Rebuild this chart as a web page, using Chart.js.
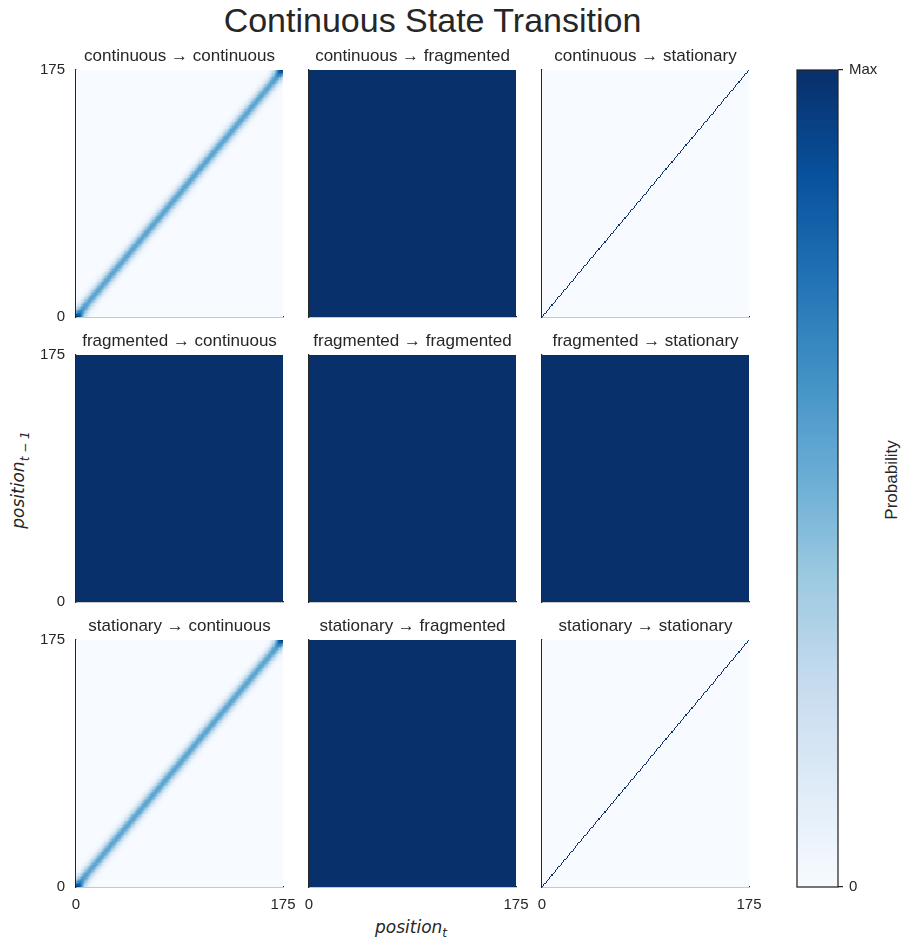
<!DOCTYPE html>
<html>
<head>
<meta charset="utf-8">
<script src="https://cdn.jsdelivr.net/npm/chart.js@4.4.1/dist/chart.umd.min.js"></script>
<style>
  body { margin: 0; background: #fff; width: 909px; height: 951px; position: relative; overflow: hidden;
         font-family: "Liberation Sans", Arial, sans-serif; color: #262626; }
  canvas { position: absolute; }
  .txt { position: absolute; white-space: nowrap; }
  #title { left: 0; width: 865px; top: 1px; text-align: center; font-size: 34px; }
  .math { font-family: "DejaVu Sans", sans-serif; font-style: italic; font-size: 17px; }
  .math sub { font-size: 12px; }
  #xlabel { left: 375px; top: 917px; }
  #ylabel { left: 20px; top: 480px; transform: translate(-50%, -50%) rotate(-90deg); }
  #cblabel { left: 892px; top: 480px; font-size: 17px; transform: translate(-50%, -50%) rotate(-90deg); }
</style>
</head>
<body>
<div id="title" class="txt">Continuous State Transition</div>
<div id="xlabel" class="txt math">position<sub>t</sub></div>
<div id="ylabel" class="txt math">position<sub>t − 1</sub></div>
<div id="cblabel" class="txt">Probability</div>

<script>
// states shown on the rows (from) and columns (to)
const states = ['continuous', 'fragmented', 'stationary'];

// number of position bins (0..175)
const nBins = 176;
const axisTicks = [0, 175];

// kind of transition matrix in each panel [row][col]
const transitionKind = [
    ['band', 'uniform', 'diagonal'],
    ['uniform', 'uniform', 'uniform'],
    ['band', 'uniform', 'diagonal']
];

// relative probability vs |position_t - position_t-1| for the band panels
const bandProfile = [1.0, 0.97, 0.9, 0.78, 0.65, 0.51, 0.38, 0.27, 0.18, 0.11, 0.067, 0.038, 0.02, 0.01];

// colorbar ticks
const cbTicks = [0, 1];
const cbTickLabels = ['0', 'Max'];

// Blues colormap stops
const blues = ['#f7fbff', '#deebf7', '#c6dbef', '#9ecae1', '#6baed6', '#4292c6', '#2171b5', '#08519c', '#08306b'];

const textColor = '#262626';
const fontFamily = '"Liberation Sans", Arial, sans-serif';

// layout of the panels (plot areas)
const panelLeft = [76, 309, 542];
const panelTop = [70, 355, 640];
const panelW = 207, panelH = 247;

function hexToRgb(h) {
    return [parseInt(h.slice(1, 3), 16), parseInt(h.slice(3, 5), 16), parseInt(h.slice(5, 7), 16)];
}
const stopsRgb = blues.map(hexToRgb);
const lut = [];
for (let k = 0; k < 256; k++) {
    const t = k / 255 * (stopsRgb.length - 1);
    const i = Math.min(Math.floor(t), stopsRgb.length - 2);
    const f = t - i;
    const c = stopsRgb[i].map((v, j) => Math.round(v + (stopsRgb[i + 1][j] - v) * f));
    lut.push(`rgb(${c[0]},${c[1]},${c[2]})`);
}
function colorFor(v) {
    return lut[Math.max(0, Math.min(255, Math.round(v * 255)))];
}

// build a row-normalised transition matrix, then scale it to its own max
function buildMatrix(kind) {
    const m = [];
    for (let r = 0; r < nBins; r++) {
        const row = [];
        for (let c = 0; c < nBins; c++) {
            const d = Math.abs(c - r);
            if (kind === 'band') row.push(d < bandProfile.length ? bandProfile[d] : 0);
            else if (kind === 'diagonal') row.push(d === 0 ? 1 : 0);
            else row.push(1);
        }
        const s = row.reduce((a, b) => a + b, 0);
        m.push(row.map(v => v / s));
    }
    let mx = 0;
    m.forEach(row => row.forEach(v => { if (v > mx) mx = v; }));
    return m.map(row => row.map(v => v / mx));
}

const heatmapPlugin = {
    id: 'heatmap',
    beforeDatasetsDraw(chart, args, opts) {
        const { ctx, scales: { x, y } } = chart;
        const m = opts.matrix;
        const n = m.length;
        const step = (axisTicks[1] - axisTicks[0]) / n;
        const xs = [], ys = [];
        for (let i = 0; i <= n; i++) {
            xs.push(Math.round(x.getPixelForValue(i * step)));
            ys.push(Math.round(y.getPixelForValue(i * step)));
        }
        ctx.save();
        for (let r = 0; r < n; r++) {
            for (let c = 0; c < n; c++) {
                ctx.fillStyle = colorFor(m[r][c]);
                ctx.fillRect(xs[c], ys[r + 1], xs[c + 1] - xs[c], ys[r] - ys[r + 1]);
            }
        }
        ctx.restore();
    }
};

const padL = 45, padT = 30, padB = 30;

function makePanel(row, col) {
    const canvas = document.createElement('canvas');
    canvas.width = panelW + padL * 2;
    canvas.height = panelH + padT + padB;
    canvas.style.left = (panelLeft[col] - padL) + 'px';
    canvas.style.top = (panelTop[row] - padT) + 'px';
    document.body.appendChild(canvas);

    const tickFont = { family: fontFamily, size: 15 };
    new Chart(canvas, {
        type: 'scatter',
        data: { datasets: [{ data: [] }] },
        options: {
            responsive: false,
            animation: false,
            events: [],
            layout: { padding: { left: 0, right: padL, top: 0, bottom: 0 } },
            plugins: {
                legend: { display: false },
                tooltip: { enabled: false },
                title: {
                    display: true,
                    fullSize: false,
                    text: states[row] + ' → ' + states[col],
                    color: textColor,
                    font: { family: fontFamily, size: 17, weight: 'normal', lineHeight: 1.2 },
                    padding: { top: 6, bottom: 3.6 }
                },
                heatmap: { matrix: buildMatrix(transitionKind[row][col]) }
            },
            scales: {
                x: {
                    type: 'linear', min: axisTicks[0], max: axisTicks[1],
                    afterFit: s => { s.height = padB; },
                    afterBuildTicks: s => { s.ticks = axisTicks.map(v => ({ value: v })); },
                    ticks: { display: row === 2, padding: 9, color: textColor, font: tickFont, maxRotation: 0, autoSkip: false },
                    grid: { display: false, drawTicks: false },
                    border: { display: true, color: textColor, width: 1.25 }
                },
                y: {
                    type: 'linear', min: axisTicks[0], max: axisTicks[1],
                    afterFit: s => { s.width = padL; },
                    afterBuildTicks: s => { s.ticks = axisTicks.map(v => ({ value: v })); },
                    ticks: { display: col === 0, padding: 11, color: textColor, font: tickFont, autoSkip: false },
                    grid: { display: false, drawTicks: false },
                    border: { display: true, color: textColor, width: 1.25 }
                }
            }
        },
        plugins: [heatmapPlugin]
    });
}

for (let r = 0; r < 3; r++) {
    for (let c = 0; c < 3; c++) makePanel(r, c);
}

// colorbar
const cbLevels = [];
for (let k = 0; k < 256; k++) cbLevels.push(k / 255);

const colorbarPlugin = {
    id: 'colorbar',
    beforeDatasetsDraw(chart) {
        const { ctx, chartArea, scales: { y } } = chart;
        const n = cbLevels.length;
        ctx.save();
        for (let k = 0; k < n; k++) {
            const yTop = Math.round(y.getPixelForValue((k + 1) / n));
            const yBot = Math.round(y.getPixelForValue(k / n));
            ctx.fillStyle = colorFor(cbLevels[k]);
            ctx.fillRect(chartArea.left, yTop, chartArea.right - chartArea.left, yBot - yTop + 1);
        }
        ctx.restore();
    },
    afterDraw(chart) {
        const { ctx, chartArea } = chart;
        ctx.save();
        ctx.strokeStyle = textColor;
        ctx.lineWidth = 1.25;
        ctx.strokeRect(chartArea.left, chartArea.top, chartArea.right - chartArea.left, chartArea.bottom - chartArea.top);
        ctx.restore();
    }
};

const cbPad = 16;
const cbCanvas = document.createElement('canvas');
cbCanvas.width = 111;
cbCanvas.height = 817 + cbPad * 2;
cbCanvas.style.left = '787px';
cbCanvas.style.top = (70 - cbPad) + 'px';
document.body.appendChild(cbCanvas);

new Chart(cbCanvas, {
    type: 'scatter',
    data: { datasets: [{ data: [] }] },
    options: {
        responsive: false,
        animation: false,
        events: [],
        layout: { padding: { left: 10, top: cbPad, bottom: cbPad, right: 0 } },
        plugins: { legend: { display: false }, tooltip: { enabled: false } },
        scales: {
            x: { display: false, min: 0, max: 1 },
            y: {
                position: 'right', min: 0, max: 1,
                afterFit: s => { s.width = 60; },
                afterBuildTicks: s => { s.ticks = cbTicks.map(v => ({ value: v })); },
                ticks: {
                    padding: 6, color: textColor, font: { family: fontFamily, size: 15 },
                    callback: (v) => cbTickLabels[cbTicks.indexOf(v)]
                },
                grid: { display: true, drawOnChartArea: false, drawTicks: true, tickLength: 5, color: textColor, lineWidth: 1.25 },
                border: { display: false }
            }
        }
    },
    plugins: [colorbarPlugin]
});
</script>
</body>
</html>
